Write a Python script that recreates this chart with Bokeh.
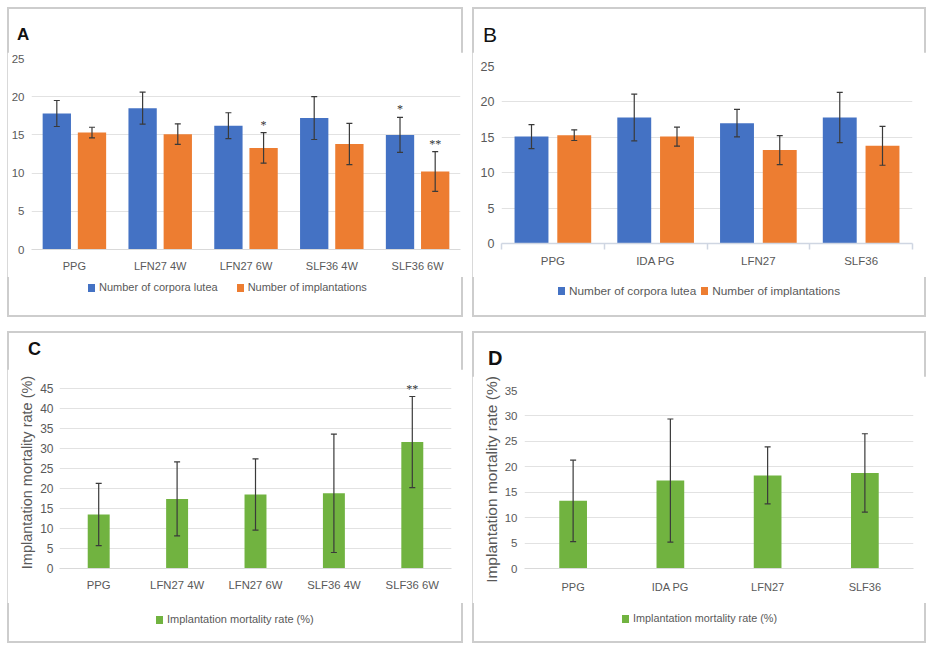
from bokeh.plotting import figure
from bokeh.models import (ColumnDataSource, Range1d, FactorRange, Whisker, TeeHead, LabelSet, Div,
                          SingleIntervalTicker, FixedTicker, LinearAxis)
from bokeh.transform import dodge
from bokeh.layouts import row, column
from bokeh.embed import file_html
from bokeh.resources import INLINE

# ---------------- data ----------------
cats_A = ["PPG", "LFN27 4W", "LFN27 6W", "SLF36 4W", "SLF36 6W"]
cl_A = [17.8, 18.5, 16.2, 17.2, 15.0]
cl_A_err = [1.7, 2.1, 1.7, 2.8, 2.3]
cl_A_star = ["", "", "", "", "*"]
imp_A = [15.3, 15.1, 13.3, 13.8, 10.2]
imp_A_err = [0.7, 1.35, 2.0, 2.7, 2.6]
imp_A_star = ["", "", "*", "", "**"]

cats_B = ["PPG", "IDA PG", "LFN27", "SLF36"]
cl_B = [15.1, 17.8, 17.0, 17.8]
cl_B_err = [1.7, 3.3, 1.95, 3.55]
imp_B = [15.3, 15.1, 13.2, 13.8]
imp_B_err = [0.75, 1.35, 2.05, 2.75]

cats_C = ["PPG", "LFN27 4W", "LFN27 6W", "SLF36 4W", "SLF36 6W"]
mort_C = [13.5, 17.4, 18.5, 18.8, 31.6]
mort_C_err = [7.8, 9.25, 8.9, 14.8, 11.4]
mort_C_star = ["", "", "", "", "**"]

cats_D = ["PPG", "IDA PG", "LFN27", "SLF36"]
mort_D = [13.3, 17.3, 18.3, 18.8]
mort_D_err = [8.0, 12.1, 5.6, 7.7]

y_max = {"A": 25, "B": 25, "C": 48, "D": 35}
y_step = 5

lab_cl = "Number of corpora lutea"
lab_imp = "Number of implantations"
lab_mort = "Implantation mortality rate (%)"

BLUE = "#4472C4"
ORANGE = "#ED7D31"
GREEN = "#71B340"
TXT = "#595959"
GRID = "#e2e2e2"
SANS = "Liberation Sans"
BORDER = {"outline": "2px solid #cdcdcd", "outline-offset": "-2px", "background": "white"}


def src(cats, vals, errs, stars=None, numeric=False):
    d = dict(cat=[i + 0.5 for i in range(len(cats))] if numeric else cats, val=vals,
             lo=[v - e for v, e in zip(vals, errs)],
             hi=[v + e for v, e in zip(vals, errs)])
    d["star"] = stars if stars is not None else [""] * len(cats)
    return ColumnDataSource(d)


def header(w, h, t, left, top, size, bold=True):
    html = ('<div style="padding-left:%spx;padding-top:%spx;font-family:\'%s\',Arial,sans-serif;'
            'font-size:%spx;line-height:1;font-weight:%s;color:#111111;">%s</div>'
            % (left, top, SANS, size, "bold" if bold else "normal", t))
    return Div(text=html, width=w, height=h, margin=0)


def footer(w, h, items, left, top, size, gap):
    parts = []
    for i, (lab, col) in enumerate(items):
        ml = gap if i > 0 else 0
        parts.append('<span style="display:inline-block;width:7px;height:8px;background:%s;'
                     'margin-left:%spx;margin-right:4px;"></span><span>%s</span>' % (col, ml, lab))
    html = ('<div style="padding-left:%spx;padding-top:%spx;height:14px;display:flex;align-items:center;'
            'white-space:nowrap;font-family:\'%s\',Arial,sans-serif;font-size:%spx;color:%s;">%s</div>'
            % (left, top, SANS, size, TXT, "".join(parts)))
    return Div(text=html, width=w, height=h, margin=0)


def base(cats, ymax, w, h, ml, mr, mt, mb, categorical=True):
    xr = FactorRange(factors=cats, range_padding=0) if categorical else Range1d(0, len(cats))
    p = figure(x_range=xr, y_range=Range1d(0, ymax),
               width=w, height=h, output_backend="svg", toolbar_location=None,
               min_border_left=ml, min_border_right=mr, min_border_top=mt, min_border_bottom=mb,
               x_axis_location="below" if categorical else None, margin=0)
    p.outline_line_color = None
    p.background_fill_color = "white"
    p.border_fill_color = "white"
    p.xgrid.grid_line_color = None
    p.ygrid.grid_line_color = GRID
    p.ygrid.grid_line_width = 1.2
    p.yaxis.ticker = SingleIntervalTicker(interval=y_step)
    p.yaxis.axis_line_color = None
    p.yaxis.major_tick_line_color = None
    p.yaxis.minor_tick_line_color = None
    p.yaxis.major_tick_out = 0
    p.yaxis.minor_tick_out = 0
    p.yaxis.major_label_text_color = TXT
    p.yaxis.major_label_text_font = SANS
    p.yaxis.major_label_standoff = 7
    return p


def bars(p, s, off, width, color):
    rng = p.x_range if isinstance(p.x_range, FactorRange) else None
    r = p.vbar(x=dodge("cat", off, range=rng), top="val", bottom=0, width=width, source=s,
               fill_color=color, line_color=None)
    wk = Whisker(base=dodge("cat", off, range=rng), upper="hi", lower="lo", source=s,
                 line_color="#3a3a3a", line_width=1.2, level="annotation",
                 upper_head=TeeHead(size=6, line_color="#3a3a3a", line_width=1.2),
                 lower_head=TeeHead(size=6, line_color="#3a3a3a", line_width=1.2))
    p.add_layout(wk)
    ls = LabelSet(x=dodge("cat", off, range=rng), y="hi", text="star", source=s,
                  text_align="center", text_baseline="bottom", text_font_size="12px",
                  text_color="#333333", text_font=SANS, y_offset=1)
    p.add_layout(ls)
    return r


def cat_xaxis(p, size, standoff):
    ax = p.xaxis[0]
    ax.axis_line_color = "#d9d9d9"
    ax.axis_line_width = 1.2
    ax.major_tick_line_color = None
    ax.minor_tick_line_color = None
    ax.major_tick_out = 0
    ax.major_label_text_color = TXT
    ax.major_label_text_font = SANS
    ax.major_label_text_font_size = size
    ax.major_label_standoff = standoff


def ylabel(p, size):
    p.yaxis.axis_label = lab_mort
    p.yaxis.axis_label_text_font = SANS
    p.yaxis.axis_label_text_font_size = size
    p.yaxis.axis_label_text_font_style = "normal"
    p.yaxis.axis_label_text_color = TXT
    p.yaxis.axis_label_standoff = 2


# ---------------- panel A ----------------
pA = base(cats_A, y_max["A"], 456, 225, 24, 3, 6, 28)
pA.yaxis.major_label_text_font_size = "11.5px"
cat_xaxis(pA, "11px", 10)
bars(pA, src(cats_A, cl_A, cl_A_err, cl_A_star), -0.205, 0.33, BLUE)
bars(pA, src(cats_A, imp_A, imp_A_err, imp_A_star), 0.205, 0.33, ORANGE)
hA = header(456, 45, "A", 10, 18.6, 17)
fA = footer(456, 40, [(lab_cl, BLUE), (lab_imp, ORANGE)], 81, 8, 11, 19)
panelA = column(hA, pA, fA, spacing=0, styles=BORDER, margin=0)

# ---------------- panel B (numeric x so ticks sit on group boundaries) ----------------
pB = base(cats_B, y_max["B"], 454, 225, 29, 14, 14, 34, categorical=False)
pB.yaxis.major_label_text_font_size = "12.5px"
nB = len(cats_B)
axB = LinearAxis(ticker=FixedTicker(ticks=[i + 0.5 for i in range(nB)], minor_ticks=list(range(nB + 1))),
                 major_label_overrides={i + 0.5: c for i, c in enumerate(cats_B)},
                 axis_line_color="#cfd6e2", axis_line_width=1.5,
                 major_tick_line_color=None, major_tick_out=6, minor_tick_line_color="#cfd6e2",
                 minor_tick_line_width=1.5, minor_tick_in=0, minor_tick_out=6,
                 major_label_text_color=TXT, major_label_text_font=SANS,
                 major_label_text_font_size="11.5px", major_label_standoff=5)
pB.add_layout(axB, "below")
bars(pB, src(cats_B, cl_B, cl_B_err, numeric=True), -0.208, 0.33, BLUE)
bars(pB, src(cats_B, imp_B, imp_B_err, numeric=True), 0.208, 0.33, ORANGE)
hB = header(454, 45, "B", 11, 17.2, 21, bold=False)
fB = footer(454, 40, [(lab_cl, BLUE), (lab_imp, ORANGE)], 86, 14, 11.8, 5)
panelB = column(hB, pB, fB, spacing=0, styles=BORDER, margin=0)

# ---------------- panel C ----------------
pC = base(cats_C, y_max["C"], 456, 234, 52, 12, 7, 35)
pC.yaxis.major_label_text_font_size = "12px"
pC.yaxis.major_label_standoff = 6
ylabel(pC, "14.5px")
cat_xaxis(pC, "11.3px", 10)
bars(pC, src(cats_C, mort_C, mort_C_err, mort_C_star), 0, 0.28, GREEN)
hC = header(456, 38, "C", 21, 8.8, 18)
fC = footer(456, 40, [(lab_mort, GREEN)], 149, 17, 11, 0)
panelC = column(hC, pC, fC, spacing=0, styles=BORDER, margin=0)

# ---------------- panel D ----------------
pD = base(cats_D, y_max["D"], 454, 227, 52, 13, 14, 35)
pD.yaxis.major_label_text_font_size = "11.5px"
ylabel(pD, "15.5px")
cat_xaxis(pD, "11px", 12)
bars(pD, src(cats_D, mort_D, mort_D_err), 0, 0.285, GREEN)
hD = header(454, 45, "D", 16, 17.1, 20)
fD = footer(454, 40, [(lab_mort, GREEN)], 150, 16, 10.8, 0)
panelD = column(hD, pD, fD, spacing=0, styles=BORDER, margin=0)

layout = column(row(panelA, panelB, spacing=9, margin=0), row(panelC, panelD, spacing=9, margin=0),
                spacing=14, margin=(7, 0, 0, 7))
open("out.html", "w").write(file_html(layout, INLINE))
